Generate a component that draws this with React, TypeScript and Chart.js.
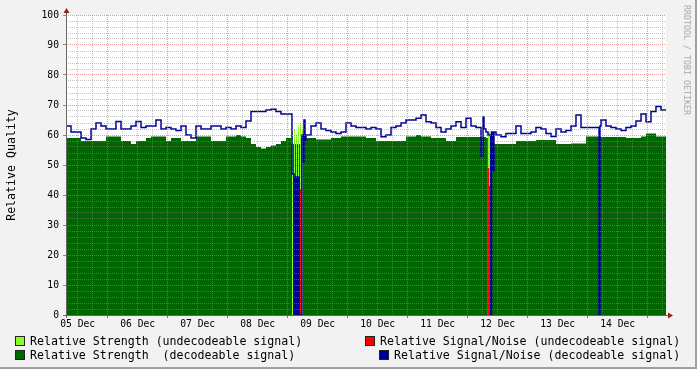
import React, { useEffect, useRef } from 'react';
import { Chart, registerables } from 'chart.js';

Chart.register(...registerables);

// ---- time axis (hours from the left edge of the plot) ----
const STEP_HOURS = 2;
const SPAN_HOURS = 240;
const START_AFTER_MIDNIGHT = 7.32; // plot starts on 05 Dec at ~07:19

const dayLabels = ['05 Dec', '06 Dec', '07 Dec', '08 Dec', '09 Dec', '10 Dec', '11 Dec', '12 Dec', '13 Dec', '14 Dec'];
const yLabelValues = [0, 10, 20, 30, 40, 50, 60, 70, 80, 90, 100];

// Relative Strength (decodeable signal), one value per 2 hours
const strengthDecodeable = [
  59, 59, 59, 58, 58, 58, 58, 58, 59.5, 59.5, 59.5, 58, 58, 57, 58, 58, 59, 59.5, 59.5, 59.5, 58, 59, 59, 58, 58, 58, 59.5, 59.5, 59.5, 58,
  58, 58, 59.5, 59.5, 60, 59.5, 59, 57, 56, 55.5, 56, 56.5, 57, 58, 59, 57, 57, 59, 59, 59, 58.5, 58.5, 58.5, 59, 59, 59.5, 59.5, 59.5, 59.5, 59.5,
  59, 59, 58, 58, 58, 58, 58, 58, 59.5, 59.5, 60, 59.5, 59.5, 59, 59, 59, 58, 58, 59.3, 59.3, 59.3, 59.3, 59.3, 59.3, 59, 57, 57, 57, 57, 57,
  58, 58, 58, 58, 58.3, 58.3, 58.3, 58.3, 57, 57, 57, 57.2, 57.2, 57.2, 59.5, 59.5, 59.5, 59.3, 59.3, 59.3, 59.3, 59.3, 59, 59, 59, 59.5, 60.5, 60.5, 59.5, 59.5,
];

// Relative Signal/Noise (decodeable signal), one value per 2 hours
const snDecodeable = [
  63, 61, 61, 59, 58.5, 62, 64, 63, 62, 62, 64.5, 62, 62, 63, 64.5, 62.5, 63, 63, 65, 62, 62.5, 62, 61.5, 63, 60, 59, 63, 62, 62, 63,
  63, 62, 62.5, 62, 63, 62.5, 64.7, 67.8, 67.8, 67.8, 68.3, 68.6, 67.8, 67, 67, 47, 46, 55, 60, 63, 64, 62, 61.5, 61, 60.5, 61, 64, 63, 62.5, 62.5,
  62, 62.5, 62, 59.4, 60, 62.5, 63, 64, 65, 65, 65.6, 66.7, 64.4, 64, 62.5, 61, 62, 63, 64.4, 62.5, 65.6, 63, 62.5, 62, 58, 60, 60, 59.4, 60.5, 60.5,
  63, 60.5, 60.5, 61, 62.5, 62, 60.5, 59.5, 62, 61, 61.5, 63, 66.7, 62.5, 62.5, 62.5, 62.5, 65, 63, 62.5, 62, 61.5, 62.5, 63, 64.7, 67, 64.4, 67.8, 69.5, 68.3,
];

// finer samples of Signal/Noise around the outages (replace the 2-hour values inside their windows)
const snEvent1Hours = [90.0, 90.4, 91.2, 91.4, 91.6, 91.8, 92.0, 92.2, 92.4, 92.6, 92.8, 93.0, 93.2, 94.4, 94.8, 95.2, 95.6];
const snEvent1Values = [67, 47, 0, 46, 0, 45, 0, 46, 0, 44, 0, 46, 0, 60, 51, 65, 58];
const snEvent2Hours = [166.0, 166.8, 167.2, 168.0, 168.8, 169.9, 170.2, 170.8, 171.2];
const snEvent2Values = [53, 66, 62, 61, 60, 0, 61, 48, 61];
const snEvent3Hours = [212.0, 213.2, 213.6];
const snEvent3Values = [62.5, 0, 63];
const snEventWindows = [[90, 96], [166, 172], [212, 214]];

// Relative Strength (undecodeable signal)
const strengthUndecHours = [90.4, 90.8, 91.2, 91.6, 92.0, 92.4, 92.8, 93.2, 93.6, 94.0, 94.4, 94.8, 168.7, 169.9];
const strengthUndecValues = [61, 0, 62, 0, 60, 0, 63, 0, 64, 0, 62, 0, 61, 0];

// Relative Signal/Noise (undecodeable signal)
const snUndecHours = [93.2, 94.2, 168.7, 169.3, 169.9];
const snUndecValues = [42, 0, 49, 43, 0];

const MONO = "'DejaVu Sans Mono', monospace";
const GRID_MINOR = 'rgba(140,140,140,0.5)';
const GRID_MAJOR = 'rgba(225,100,100,0.65)';

type Pt = { x: number; y: number };

function regularPoints(values: number[]): Pt[] {
  const pts = values.map((v, i) => ({ x: i * STEP_HOURS, y: v }));
  pts.push({ x: SPAN_HOURS, y: values[values.length - 1] });
  return pts;
}

function pairPoints(hours: number[], values: number[]): Pt[] {
  return hours.map((h, i) => ({ x: h, y: values[i] }));
}

function snPoints(): Pt[] {
  const pts: Pt[] = [];
  snDecodeable.forEach((v, i) => {
    const t = i * STEP_HOURS;
    if (snEventWindows.some(([a, b]) => t >= a && t < b)) return;
    pts.push({ x: t, y: v });
  });
  pts.push(...pairPoints(snEvent1Hours, snEvent1Values));
  pts.push(...pairPoints(snEvent2Hours, snEvent2Values));
  pts.push(...pairPoints(snEvent3Hours, snEvent3Values));
  pts.sort((a, b) => a.x - b.x);
  pts.push({ x: SPAN_HOURS, y: snDecodeable[snDecodeable.length - 1] });
  return pts;
}

const framePlugin = {
  id: 'rrdFrame',
  beforeDraw(chart: any) {
    const { ctx, chartArea: a, width, height } = chart;
    ctx.save();
    ctx.fillStyle = '#f2f2f2';
    ctx.fillRect(0, 0, width, height);
    ctx.fillStyle = '#a0a0a0';
    ctx.fillRect(width - 2, 0, 2, height);
    ctx.fillRect(0, height - 2, width, 2);
    ctx.fillStyle = '#ffffff';
    ctx.fillRect(a.left, a.top, a.right - a.left, a.bottom - a.top);
    ctx.restore();
  },
  afterDraw(chart: any) {
    const { ctx, chartArea: a } = chart;
    ctx.save();
    ctx.strokeStyle = '#666666';
    ctx.lineWidth = 1;
    ctx.beginPath();
    ctx.moveTo(a.left + 0.5, a.bottom + 3);
    ctx.lineTo(a.left + 0.5, a.top - 5);
    ctx.moveTo(a.left - 3, a.bottom + 0.5);
    ctx.lineTo(a.right + 5, a.bottom + 0.5);
    ctx.stroke();
    ctx.fillStyle = '#9c1f1f';
    ctx.beginPath();
    ctx.moveTo(a.left - 2.5, a.top - 2);
    ctx.lineTo(a.left + 3.5, a.top - 2);
    ctx.lineTo(a.left + 0.5, a.top - 7);
    ctx.closePath();
    ctx.fill();
    ctx.beginPath();
    ctx.moveTo(a.right + 2, a.bottom - 2.5);
    ctx.lineTo(a.right + 2, a.bottom + 3.5);
    ctx.lineTo(a.right + 7, a.bottom + 0.5);
    ctx.closePath();
    ctx.fill();
    ctx.restore();
  },
};

export default function App() {
  const ref = useRef<HTMLCanvasElement | null>(null);

  useEffect(() => {
    const canvas = ref.current;
    if (!canvas) return;

    const xTicks: { value: number; major: boolean; label: string }[] = [];
    for (let h = 6; h - START_AFTER_MIDNIGHT < SPAN_HOURS; h += 6) {
      const t = h - START_AFTER_MIDNIGHT;
      if (t < 0) continue;
      const hod = h % 24;
      xTicks.push({ value: t, major: hod === 0, label: hod === 12 ? dayLabels[Math.floor(h / 24)] ?? '' : '' });
    }

    // Chart.js 'before': horizontal at the previous value, then vertical -> each value holds until the next sample
    const area = (data: Pt[], color: string, order: number) => ({
      data,
      stepped: 'before' as const,
      fill: 'origin',
      backgroundColor: color,
      borderColor: 'rgba(0,0,0,0)',
      borderWidth: 1,
      pointRadius: 0,
      order,
    });

    const chart = new Chart(canvas, {
      type: 'line',
      data: {
        datasets: [
          { label: 'Relative Signal/Noise (decodeable signal)', data: snPoints(), stepped: 'before', fill: false, borderColor: '#000094', borderWidth: 1.5, pointRadius: 0, order: 0 } as any,
          { label: 'Relative Signal/Noise (undecodeable signal)', ...area(pairPoints(snUndecHours, snUndecValues), '#ff0000', 1) } as any,
          { label: 'Relative Strength (undecodeable signal)', ...area(pairPoints(strengthUndecHours, strengthUndecValues), '#88ff22', 2) } as any,
          { label: 'Relative Strength  (decodeable signal)', ...area(regularPoints(strengthDecodeable), '#006600', 3) } as any,
        ],
      },
      options: {
        animation: false,
        responsive: false,
        devicePixelRatio: 1,
        events: [],
        layout: { padding: { left: 0, top: 15, right: 31, bottom: 0 } },
        plugins: { legend: { display: false }, tooltip: { enabled: false }, title: { display: false } },
        scales: {
          x: {
            type: 'linear',
            bounds: 'data',
            min: 0,
            max: SPAN_HOURS,
            afterBuildTicks: (s: any) => {
              s.ticks = xTicks.map((t) => ({ value: t.value }));
            },
            afterFit: (s: any) => {
              s.height = 54;
            },
            ticks: {
              autoSkip: false,
              maxRotation: 0,
              minRotation: 0,
              padding: 1,
              color: '#000',
              font: { family: MONO, size: 9.7 },
              callback: (_v: any, i: number) => xTicks[i]?.label ?? '',
            },
            grid: {
              z: 1,
              lineWidth: 1,
              color: (c: any) => (xTicks[c.index]?.major ? GRID_MAJOR : GRID_MINOR),
              tickLength: 3,
              tickColor: (c: any) => (xTicks[c.index]?.major ? 'rgba(220,60,60,0.9)' : 'rgba(0,0,0,0)'),
            },
            border: { display: false, dash: [1, 1] },
          },
          y: {
            type: 'linear',
            bounds: 'data',
            min: 0,
            max: 100,
            afterFit: (s: any) => {
              s.width = 66;
            },
            ticks: {
              stepSize: 2,
              autoSkip: false,
              padding: 4,
              color: '#000',
              font: { family: MONO, size: 9.7 },
              callback: (v: any) => (yLabelValues.includes(Number(v)) ? String(v) : ''),
            },
            grid: {
              z: 1,
              lineWidth: 1,
              color: (c: any) => (yLabelValues.includes(c.tick?.value) ? GRID_MAJOR : GRID_MINOR),
              tickLength: 3,
              tickColor: (c: any) => (yLabelValues.includes(c.tick?.value) ? '#888' : 'rgba(0,0,0,0)'),
            },
            border: { display: false, dash: [1, 1] },
          },
        },
      } as any,
      plugins: [framePlugin],
    });

    return () => chart.destroy();
  }, []);

  const text: React.CSSProperties = {
    position: 'absolute',
    fontFamily: MONO,
    fontSize: '11.6px',
    lineHeight: '14px',
    whiteSpace: 'pre',
    color: '#000',
  };
  const box = (left: number, top: number, color: string): React.CSSProperties => ({
    position: 'absolute',
    left,
    top,
    width: 8,
    height: 8,
    background: color,
    border: '1px solid #222',
  });

  return (
    <div style={{ position: 'fixed', left: 0, top: 0, width: 697, height: 369, overflow: 'hidden' }}>
      <canvas ref={ref} width={697} height={369} style={{ position: 'absolute', left: 0, top: 0, width: 697, height: 369 }} />
      <div style={{ ...text, left: 11, top: 164.5, transform: 'translate(-50%, -50%) rotate(-90deg)' }}>Relative Quality</div>
      <div style={{ ...text, fontSize: '8.3px', lineHeight: '10px', color: '#a8a8a8', left: 687, top: 60, transform: 'translate(-50%, -50%) rotate(90deg)' }}>RRDTOOL / TOBI OETIKER</div>
      <div style={box(15, 336, '#88ff22')} />
      <div style={{ ...text, left: 30, top: 334 }}>Relative Strength (undecodeable signal)</div>
      <div style={box(15, 350, '#006600')} />
      <div style={{ ...text, left: 30, top: 348 }}>Relative Strength  (decodeable signal)</div>
      <div style={box(365, 336, '#ff0000')} />
      <div style={{ ...text, left: 380, top: 334 }}>Relative Signal/Noise (undecodeable signal)</div>
      <div style={box(379, 350, '#000094')} />
      <div style={{ ...text, left: 394, top: 348 }}>Relative Signal/Noise (decodeable signal)</div>
    </div>
  );
}
